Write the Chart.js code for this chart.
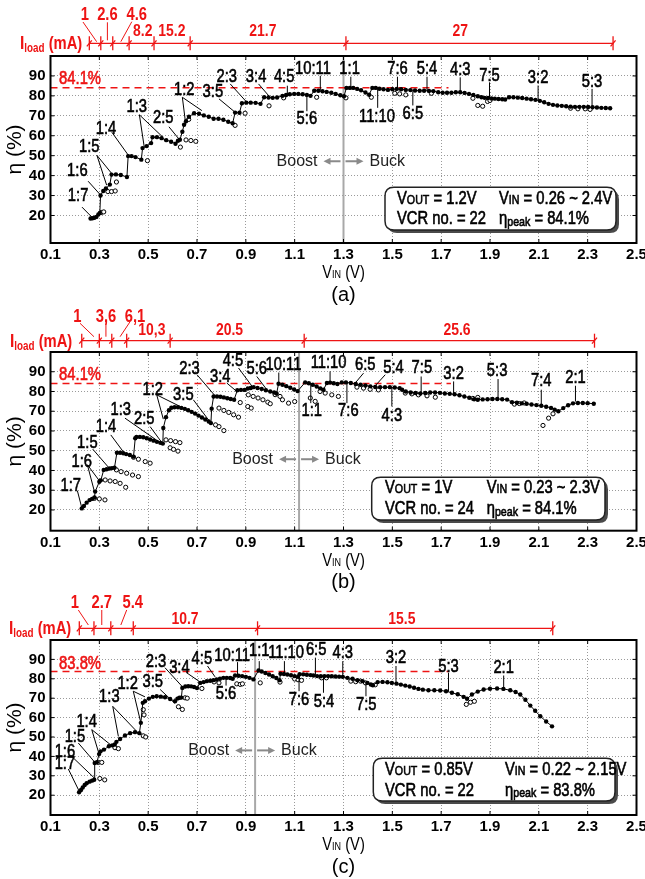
<!DOCTYPE html>
<html>
<head>
<meta charset="utf-8">
<script src="https://cdn.jsdelivr.net/npm/chart.js@4.4.0/dist/chart.umd.min.js"></script>
<style>
  body { margin: 0; background: #fff; width: 645px; height: 879px; position: relative; overflow: hidden; }
  canvas { position: absolute; left: 0; }
</style>
</head>
<body>
<canvas id="cA" width="645" height="310" style="top:0px"></canvas>
<canvas id="cB" width="645" height="305" style="top:295px"></canvas>
<canvas id="cC" width="645" height="294" style="top:585px"></canvas>
<script>
// axis ticks
const xTicks = [0.1, 0.3, 0.5, 0.7, 0.9, 1.1, 1.3, 1.5, 1.7, 1.9, 2.1, 2.3, 2.5];
const yTicks = [20, 30, 40, 50, 60, 70, 80, 90];

// (a) Vout = 1.2V : selected VCR (filled, joined)
const vinA = [0.264,0.272,0.28,0.288,0.296,0.302, 0.305,0.316,0.327, 0.343,0.35,0.368,0.388,0.413,
  0.418,0.432,0.448,0.472, 0.477,0.494,0.512,0.518,0.536,0.555,0.574,0.594,0.612, 0.622,0.63,0.64,
  0.647,0.655,0.667,0.688,0.708,0.728,0.748,0.768,0.788,0.808,0.828,0.846, 0.856,0.874,
  0.884,0.902,0.92,0.94,0.96, 0.975,0.993,1.01,1.028, 1.05,1.065,1.08,1.098,1.115,1.133,1.15,1.165,
  1.18,1.197,1.214,1.231,1.25,1.268,1.287,1.302, 1.312,1.326,1.34,1.356,1.372,1.39,1.405,
  1.418,1.432,1.447,1.464,1.482,1.5,1.518,1.536,1.555,1.574,1.593,1.612,1.63,1.65,1.668,
  1.688,1.706,1.724,1.742,1.76,1.778,1.796,1.814,1.832,1.85, 1.865,1.878,1.892,1.906,1.92,1.935,1.95,1.962,
  1.978,1.996,2.014,2.032,2.05,2.068,2.086,2.104,2.122,2.14,2.158,2.176,2.194,2.212,2.23,2.248,2.266,2.284,2.302,2.32,2.338,2.356,2.374,2.392];
const effA = [18.5,18.6,18.9,19.3,20.5,21.3, 30,32.3,33.5, 35.5,40.5,40.6,40.3,39.3,
  49.8,49.8,49.3,48, 53.8,54.8,56.3,59.3,59.3,58.8,57.8,57,56, 57.5,58,62,
  65.5,67.3,69.5,71.3,71,70.2,69.5,68.5,68.5,68,67,66.3, 71.6,71.5,
  76.3,76.6,76.6,76.5,76, 79.3,79.2,79,79.2, 80,80.4,80.8,81,81,80.8,80.5,80,
  82.6,82.6,82.3,82,81.6,81,80.3,79.8, 84,84,84,83.5,82.8,81.7,80.6,
  84,84,83.6,83.3,83,83.3,83.5,83.3,83,82.9,82.7,82.6,82.6,82.5,82.4,
  81.8,81.6,81.6,81.6,81.8,81.8,81.5,81,80.5,79.8, 79.3,79,78.9,78.7,78.6,78.4,78.3,78.2,
  79.3,79.3,79.1,78.9,78.6,78.3,78,77.5,76.8,76,75.5,75.2,75,74.8,74.6,74.5,74.5,74.5,74.4,74.3,74.2,74,73.9,73.8];
// (a) other VCRs (open circles)
const vinAo = [0.308,0.318, 0.335,0.35,0.365, 0.37, 0.497, 0.632,0.655,0.675,0.695, 0.666, 0.856, 0.897, 0.995,
  1.055, 1.19, 1.31, 1.414, 1.51,1.53,1.555, 1.66, 1.83, 1.85,1.87, 1.89,1.9, 2.23,2.26,2.29,2.31];
const effAo = [21.5,21.8, 32,32,32.3, 36.8, 47.5, 54.3,57.9,57.6,57.2, 68.2, 65.2, 71.3, 75,
  79, 79.3, 79, 79.3, 81.3,81,80.5, 81.3, 78.8, 75.2,74.8, 77.2,77.7, 73.8,73.5,73.5,73.2];

// (b) Vout = 1V
const vinB = [0.228,0.237,0.248,0.26,0.27,0.28, 0.283,0.3,0.306, 0.318,0.33,0.342,0.352,0.362,
  0.372,0.385,0.398,0.41,0.425,0.44, 0.447,0.452,0.466,0.48,0.494,0.508,0.522,0.536,0.55,0.56,
  0.562,0.573,0.585, 0.595,0.608,0.622,0.636,0.65,0.664,0.678,0.692,0.706,0.72,0.734,0.748,0.757,
  0.76, 0.768,0.782,0.796,0.81,0.824,0.838,0.852, 0.865,0.88,0.895, 0.908,0.92,
  0.932,0.948,0.965,0.982,1.0,1.016,1.026, 1.034,1.05,1.066,1.082,1.098,1.112,
  1.143,1.158,1.174,1.19,1.205,1.218, 1.232,1.245,1.26,1.275,
  1.293,1.31,1.33,1.35,1.37,1.39,1.41,1.43,1.45,1.47,1.49,1.51,1.53,1.54,
  1.555,1.575,1.595,1.615,1.635,1.655,1.675,1.695, 1.715,1.735,1.755,1.775,1.795,1.815,1.835,
  1.85,1.87,1.89,1.91,1.93,1.95,1.97, 1.99,2.01,2.03,2.05,2.07,2.09,2.11,2.13,2.15,2.165,2.18,
  2.2,2.22,2.24,2.26,2.28,2.3,2.325];
const effB = [20.8,22,23.7,25,25.6,26.3, 29.3,34.3,35, 40.3,40.6,41,41.2,41.4,
  49,49,48.7,48.3,47.8,47, 56.3,57,57,56.8,56.3,55.7,55.1,54.5,54,53.6,
  61.5,67,70.5, 71.8,72,72,71.7,71.2,70.5,69.7,68.8,67.8,66.8,65.8,64.8,64,
  71.3, 77.5,77.5,77.3,77,76.6,76.2,75.8, 80.6,80.8,80.8, 81.5,81.8,
  82.2,81.8,81.3,80.6,80,79.5,79, 83.9,83.4,82.7,81.9,81,80.2,
  84.6,84.2,83.4,82.5,81.6,80.9, 84.3,84.5,84.2,83.8,
  84.6,84.6,84.3,83.8,83.4,83,82.6,82.3,82.2,82.2,82.2,82,81.7,80.9,
  80,79.5,79.2,79,79.2,79.5,79.5,79.3, 79,78.8,78.6,78.1,77.5,76.8,76.1,
  75.8,76,76.1,76.2,76.2,76.1,75.9, 74.6,74.3,74,73.8,73.4,73.1,72.8,72.3,71.7,70.8,70,
  71.6,73,74,74.2,74.2,74.1,73.8];
const vinBo = [0.28,0.3,0.323, 0.324,0.344,0.365,0.385,0.408, 0.37,0.389,0.412,0.436,0.46, 0.44,0.46,0.488,0.508,
  0.573,0.592,0.612,0.63, 0.59,0.604,0.622, 0.776,0.79,0.81, 0.79,0.81,0.83,0.85,0.87, 0.877,0.908,0.922,
  0.91,0.93,0.95,0.97,0.99,1.0, 1.02,1.04,1.05,1.075,1.1, 1.164,1.184, 1.204,1.225,1.252,1.279,
  1.355,1.382,1.409,1.443, 1.553,1.58,1.607,1.642,1.676, 1.83,1.85, 2.0,2.02,2.04, 2.117,2.14,2.158];
const effBo = [25.9,25.6,25.1, 35.2,34.7,34.4,33.5,31.5, 40.3,39.4,38.6,37.7,36.9, 46.7,45.7,44.5,43.7,
  55.5,55.1,54.6,54.1, 51.5,50.7,49.8, 63.1,62.2,60.2, 71.6,70.4,69.4,68.2,67, 74.4,72.4,71.6,
  78.3,77.5,76.7,75.8,74.6,73.8, 78.4,77.5,75.8,74.1,74.9, 76.7,75, 80,79.2,78.3,77.5,
  82.2,81.7,81.1,80.8, 79.2,78.8,78.3,77.8,77.1, 76.5,77, 73.6,73.9,74.2, 62.8,66.5,68.7];

// (c) Vout = 0.85V
const vinC = [0.217,0.225,0.232,0.24, 0.248,0.26,0.27,0.279, 0.281,0.29,
  0.299,0.305,0.319,0.339,0.353,0.363, 0.37,0.385,0.405,0.426,0.446,0.464,
  0.47,0.478,0.487,0.503,0.519,0.535,0.552,0.569,0.59,0.61, 0.62,0.628,0.636,
  0.64,0.652,0.664,0.676,0.688,0.7, 0.713,0.727,0.74,0.754,0.767, 0.78,0.794,0.808,0.822,0.836,0.846,
  0.856,0.87,0.885,0.9,0.915,0.931, 0.952,0.965,0.98,0.995,1.01,1.025,1.038,
  1.042,1.056,1.07,1.085,1.1,1.114,
  1.12,1.135,1.15,1.165,1.177,1.192,1.207,1.222,1.237,1.252,1.267,1.282,1.297,
  1.316,1.337,1.357,1.378,1.398,1.412,1.42, 1.44,1.46,1.48,1.498,1.517,1.535,1.553,1.571,1.589,1.607,
  1.625,1.648,1.672,1.696,1.72,1.744,1.768,1.792,1.806,
  1.826,1.85,1.874,1.9,1.929,1.955,1.983,2.005,2.024,2.045,2.065,2.085,2.106,2.13,2.154];
const effC = [21.5,22.7,24,25.3, 26.2,27,27.5,28, 36.6,37,
  41.2,42.6,43.5,45.2,45.7,46.1, 47.5,49,50.8,52,52.5,52,
  57.3,67.6,68.4,69.8,70.7,71,70.8,70.5,69.6,68.4, 69.8,70.2,70.3,
  75.3,76,76.2,76.1,75.8,75.2, 77.9,78.3,78.8,79,79.3, 79.7,80,80.5,80.5,80.4,80,
  81.7,81.6,81.4,81,80.5,79.7, 84.3,83.8,83,82.2,81.3,80.4,79.3,
  82.6,82.5,82.2,81.8,81.4,81,
  82.4,82.3,82.1,81.9,81.7,81.4,81.3,81.4,81.4,81.3,81.2,81.1,81,
  80.5,80,79.3,78.8,77.9,77.1,76.7, 78.3,78.4,78.2,77.9,77.5,77,76.5,76,75.4,74.8,
  74.4,74.1,74.1,74,73.6,72.8,72,70.7,69.7,
  71.9,73.4,74.5,74.9,75,74.8,74.1,73.2,71.9,69.2,66.2,63.5,60.7,58,55.5];
const vinCo = [0.302,0.322, 0.296,0.31, 0.364,0.378, 0.48,0.49, 0.48,0.483, 0.624,0.64, 0.651,0.66, 0.72,
  0.77,0.79, 0.863,0.877,0.886, 0.959, 1.04, 1.1,1.114,1.128, 1.21,1.23, 1.33,1.35,1.37,1.39, 1.43,
  1.803,1.82,1.836];
const effCo = [28.6,27.9, 36.9,36.9, 44.5,44, 50.6,50, 64.1,61.4, 65.6,64.2, 70.2,70, 75,
  78.4,77.9, 77.4,77.1,77.4, 77.9, 78.3, 79.9,79.5,79.2, 80.5,80.5, 78.8,78.5,78.8,77.9, 76.9,
  66.8,67.9,68.4];

// ratio labels: text, label x, label y, leader lines (all in V / %)
const notesA = [
  ['1:7',0.213,29.6,[[0.229,24.2,0.274,18.6]]],
  ['1:6',0.21,42.2,[[0.254,37.2,0.307,30]]],
  ['1:5',0.259,54.3,[[0.29,50.2,0.33,35.2],[0.29,50.2,0.351,41]]],
  ['1:4',0.327,63.5,[[0.351,61.8,0.419,50.2]]],
  ['1:3',0.453,74.3,[[0.464,70.5,0.484,54.3],[0.464,70.5,0.56,59.3]]],
  ['2:5',0.562,69,[[0.585,64.5,0.631,57.6]]],
  ['1:2',0.648,83,[[0.64,79.3,0.654,65.6],[0.64,79.3,0.72,72.6]]],
  ['3:5',0.765,81.8,[[0.79,78.5,0.856,71.8]]],
  ['2:3',0.822,89.6,[[0.836,86,0.904,76.8]]],
  ['3:4',0.942,89.6,[[0.952,86,0.997,79.6]]],
  ['4:5',1.057,89.3,[[1.07,85.1,1.07,80.4]]],
  ['10:11',1.175,93.5,[[1.205,90.1,1.205,82.8]]],
  ['5:6',1.15,68.5,[[1.15,72.3,1.15,80.4]]],
  ['1:1',1.325,93.5,[[1.33,89.6,1.33,84.2]]],
  ['11:10',1.437,69.3,[[1.44,74,1.44,83.8]]],
  ['7:6',1.521,93.5,[[1.521,89.6,1.521,83.6]]],
  ['5:4',1.642,93.5,[[1.642,89.6,1.642,82.6]]],
  ['6:5',1.584,71,[[1.584,75.2,1.584,82.4]]],
  ['4:3',1.778,93,[[1.778,89.3,1.778,81.8]]],
  ['7:5',1.898,90.2,[[1.898,86.8,1.898,78.8]]],
  ['3:2',2.097,88.8,[[2.097,85.2,2.097,78]]],
  ['5:3',2.318,86.8,[[2.318,83.5,2.318,74.4]]]
];
const notesB = [
  ['1:7',0.183,32.2,[[0.21,29.8,0.229,20.7]]],
  ['1:6',0.228,44.5,[[0.251,42.9,0.28,29.3],[0.251,42.9,0.303,34.3]]],
  ['1:5',0.251,54.1,[[0.273,50.8,0.341,41.1]]],
  ['1:4',0.327,62.2,[[0.347,58,0.401,49]]],
  ['1:3',0.388,70.4,[[0.405,66.5,0.549,54.1]]],
  ['2:5',0.484,66,[[0.508,62.2,0.558,53.8]]],
  ['1:2',0.519,80.9,[[0.535,78.3,0.562,66],[0.535,78.3,0.631,72.4]]],
  ['3:5',0.644,78.3,[[0.685,75.8,0.757,64]]],
  ['2:3',0.669,91.4,[[0.7,88.5,0.774,77.8]]],
  ['3:4',0.795,87.3,[[0.822,84.3,0.863,80]]],
  ['4:5',0.847,95.2,[[0.87,91.9,0.931,81.7]]],
  ['5:6',0.945,91.4,[[0.945,87.6,0.986,80.9]]],
  ['10:11',1.054,93.6,[[1.035,89.6,1.035,84.3]]],
  ['11:10',1.239,94.4,[[1.245,90.2,1.245,84.8]]],
  ['1:1',1.17,69.9,[[1.166,74.1,1.166,84.3]]],
  ['7:6',1.32,69.9,[[1.314,74.1,1.314,84.6]]],
  ['6:5',1.389,93.6,[[1.382,89.3,1.348,84.3]]],
  ['5:4',1.505,91.9,[[1.471,88.5,1.43,82.9]]],
  ['4:3',1.498,67.7,[[1.498,72.4,1.498,82.2]]],
  ['7:5',1.621,91.9,[[1.618,87.6,1.618,79.5]]],
  ['3:2',1.751,89,[[1.751,85.1,1.751,79.2]]],
  ['5:3',1.929,90.2,[[1.933,86.3,1.933,76.7]]],
  ['7:4',2.11,85.1,[[2.11,80.9,2.11,73.3]]],
  ['2:1',2.25,86.8,[[2.25,82.9,2.25,74.9]]]
];
const notesC = [
  ['1:7',0.159,36,[[0.173,33.5,0.217,22.2]]],
  ['1:6',0.159,42,[[0.187,40,0.28,28.8]]],
  ['1:5',0.2,50,[[0.214,46.9,0.282,36.9]]],
  ['1:4',0.248,57.8,[[0.269,53.8,0.299,41.2],[0.269,53.8,0.351,45.5]]],
  ['1:3',0.341,70.5,[[0.355,65.8,0.378,50.3],[0.355,65.8,0.46,52]]],
  ['1:2',0.416,77.1,[[0.439,73.6,0.47,57.3],[0.439,73.6,0.487,70.7]]],
  ['3:5',0.519,78.3,[[0.549,74.5,0.61,67.3]]],
  ['2:3',0.532,88.6,[[0.569,85.7,0.638,76.2]]],
  ['3:4',0.628,85.7,[[0.658,83.1,0.713,78.3]]],
  ['4:5',0.72,90.4,[[0.743,86.6,0.774,81]]],
  ['5:6',0.819,71.9,[[0.819,76.5,0.819,80.5]]],
  ['10:11',0.844,91.7,[[0.866,88.6,0.866,81.7]]],
  ['1:1',0.955,94.3,[[0.955,89.1,0.955,84.6]]],
  ['11:10',1.065,93.4,[[1.058,89.1,1.058,83.1]]],
  ['6:5',1.188,94.7,[[1.185,90.9,1.185,82]]],
  ['7:6',1.118,69.3,[[1.118,73.6,1.118,82.2]]],
  ['5:4',1.22,68.2,[[1.218,72.8,1.218,81]]],
  ['4:3',1.297,93.4,[[1.297,89.1,1.297,80.8]]],
  ['7:5',1.393,66.4,[[1.392,71,1.392,77.6]]],
  ['3:2',1.515,90.9,[[1.515,86.6,1.515,77.6]]],
  ['5:3',1.73,86.2,[[1.73,83.1,1.73,73.4]]],
  ['2:1',1.956,85.7,[[1.956,81.7,1.956,75]]]
];

const RED = '#ee1414';
const SAN = '"Liberation Sans",Arial,sans-serif';
const NS = 0.82; // horizontal squeeze to imitate a narrow face

const panels = [
  { id: 'cA', vin: vinA, eff: effA, vinO: vinAo, effO: effAo, notes: notesA, yMin: 6.2, top: 56, xH: 67,
    peak: 84.1, peakText: '84.1%', peakAt: [0.221, 88.3], peakEnd: 1.73, divider: 1.3, boostE: 47.2,
    box: { r: [385, 131.3, 616, 174], rows: [143.3, 163.3], cols: [397, 499], vout: '1.2V', vin: '0.26 ~ 2.4V', vcr: '22', pk: '84.1%' },
    load: { dy: -12.7, ticks: [0.259, 0.306, 0.355, 0.422, 0.524, 0.672, 1.31, 2.404],
      low: [['8.2', 0.478], ['15.2', 0.597], ['21.7', 0.97], ['27', 1.778]], lowDy: -11.6,
      up: [['1', 0.241, [0.233, -21.3, 0.289, -1.6]], ['2.6', 0.333, [0.333, -21, 0.333, -3]], ['4.6', 0.453, [0.433, -21.6, 0.388, -1.6]]],
      upDy: -28.3, labelX: 20 },
    caption: '(a)' },
  { id: 'cB', vin: vinB, eff: effB, vinO: vinBo, effO: effBo, notes: notesB, yMin: 9.5, top: 57, xH: 69.3,
    peak: 84.1, peakText: '84.1%', peakAt: [0.221, 88.5], peakEnd: 1.74, divider: 1.118, boostE: 45.7,
    box: { r: [371.7, 125.3, 605, 168], rows: [136.3, 157.3], cols: [385, 486.7], vout: '1V', vin: '0.23 ~ 2.3V', vcr: '24', pk: '84.1%' },
    load: { dy: -11.3, ticks: [0.228, 0.3, 0.351, 0.412, 0.59, 1.139, 2.328],
      low: [['10,3', 0.515], ['20.5', 0.833], ['25.6', 1.765]], lowDy: -10,
      up: [['1', 0.21, [0.221, -17.4, 0.278, -4]], ['3,6', 0.327, [0.327, -20.7, 0.327, -4]], ['6,1', 0.446, [0.426, -19, 0.385, -4]]],
      upDy: -24, labelX: 10 },
    caption: '(b)' },
  { id: 'cC', vin: vinC, eff: effC, vinO: vinCo, effO: effCo, notes: notesC, yMin: 9.8, top: 55, xH: 64,
    peak: 83.8, peakText: '83.8%', peakAt: [0.221, 87.8], peakEnd: 1.73, divider: 0.938, boostE: 43.1,
    box: { r: [373.3, 118.3, 615, 161], rows: [130, 150.7], cols: [385, 505], vout: '0.85V', vin: '0.22 ~ 2.15V', vcr: '22', pk: '83.8%' },
    load: { dy: -11.7, ticks: [0.218, 0.278, 0.347, 0.439, 0.948, 2.157],
      low: [['10.7', 0.651], ['15.5', 1.539]], lowDy: -9,
      up: [['1', 0.2, [0.214, -18.3, 0.255, -3.3]], ['2.7', 0.31, [0.31, -18.3, 0.31, -3.3]], ['5.4', 0.437, [0.412, -18.3, 0.388, -3.3]]],
      upDy: -25, labelX: 9 },
    caption: '(c)' }
];

function pts(xs, ys) { return xs.map((x, i) => ({ x: x, y: ys[i] })); }
function line(ctx, x1, y1, x2, y2) { ctx.beginPath(); ctx.moveTo(x1, y1); ctx.lineTo(x2, y2); ctx.stroke(); }
// narrow text: parts = [[text, font, dy], ...]; heavy adds a thin outline
function rich(ctx, parts, x, y, align, heavy) {
  let w = 0;
  parts.forEach(p => { ctx.font = p[1]; w += ctx.measureText(p[0]).width; });
  ctx.save();
  ctx.translate(x, y); ctx.scale(NS, 1);
  let cx = align === 'center' ? -w / 2 : (align === 'right' ? -w : 0);
  ctx.textAlign = 'left';
  ctx.strokeStyle = ctx.fillStyle; ctx.lineWidth = 0.6;
  parts.forEach(p => {
    ctx.font = p[1];
    ctx.fillText(p[0], cx, p[2] || 0);
    if (heavy) ctx.strokeText(p[0], cx, p[2] || 0);
    cx += ctx.measureText(p[0]).width;
  });
  ctx.restore();
}
function txt(ctx, s, font, x, y, heavy) { rich(ctx, [[s, font]], x, y, 'center', heavy); }
function arrow(ctx, x1, x2, y) {
  const d = x2 > x1 ? 1 : -1;
  ctx.strokeStyle = '#8a8a8a'; ctx.fillStyle = '#8a8a8a'; ctx.lineWidth = 2;
  line(ctx, x1, y, x2 - d * 5, y);
  ctx.beginPath(); ctx.moveTo(x2, y); ctx.lineTo(x2 - d * 7, y - 3.5); ctx.lineTo(x2 - d * 7, y + 3.5); ctx.closePath(); ctx.fill();
}
function roundRect(ctx, x1, y1, x2, y2, r) {
  ctx.beginPath();
  ctx.moveTo(x1 + r, y1); ctx.lineTo(x2 - r, y1); ctx.quadraticCurveTo(x2, y1, x2, y1 + r);
  ctx.lineTo(x2, y2 - r); ctx.quadraticCurveTo(x2, y2, x2 - r, y2);
  ctx.lineTo(x1 + r, y2); ctx.quadraticCurveTo(x1, y2, x1, y2 - r);
  ctx.lineTo(x1, y1 + r); ctx.quadraticCurveTo(x1, y1, x1 + r, y1);
  ctx.closePath();
}

function figPlugin(P) {
  return {
    id: 'fig',
    beforeDatasetsDraw(chart) {
      const ctx = chart.ctx, a = chart.chartArea;
      const X = v => chart.scales.x.getPixelForValue(v), Y = e => chart.scales.y.getPixelForValue(e);
      ctx.save();
      ctx.strokeStyle = '#a8a8a8'; ctx.lineWidth = 2;
      line(ctx, X(P.divider), a.top, X(P.divider), a.bottom);
      ctx.strokeStyle = RED; ctx.lineWidth = 1.5; ctx.setLineDash([7, 5]);
      line(ctx, a.left, Y(P.peak), X(P.peakEnd), Y(P.peak));
      ctx.restore();
    },
    afterDraw(chart) {
      const ctx = chart.ctx, a = chart.chartArea;
      const X = v => chart.scales.x.getPixelForValue(v), Y = e => chart.scales.y.getPixelForValue(e);
      ctx.save();
      // frame + inner ticks
      ctx.strokeStyle = '#000'; ctx.lineWidth = 2;
      ctx.strokeRect(a.left, a.top, a.right - a.left, a.bottom - a.top);
      ctx.lineWidth = 1;
      xTicks.forEach(v => { const x = X(v); line(ctx, x, a.bottom, x, a.bottom - 4); line(ctx, x, a.top, x, a.top + 4); });
      yTicks.forEach(e => { const y = Y(e); line(ctx, a.left, y, a.left + 4, y); line(ctx, a.right, y, a.right - 4, y); });

      ctx.textBaseline = 'middle';
      // peak label
      ctx.fillStyle = RED;
      txt(ctx, P.peakText, '18px ' + SAN, X(P.peakAt[0]), Y(P.peakAt[1]), true);

      // boost / buck
      const dx = X(P.divider), by = Y(P.boostE);
      ctx.fillStyle = '#222'; ctx.font = '16px ' + SAN;
      ctx.textAlign = 'right'; ctx.fillText('Boost', dx - 26, by);
      ctx.textAlign = 'left'; ctx.fillText('Buck', dx + 26, by);
      arrow(ctx, dx - 3, dx - 20, by);
      arrow(ctx, dx + 2, dx + 20, by);

      // ratio labels
      ctx.strokeStyle = '#000'; ctx.lineWidth = 1; ctx.fillStyle = '#000';
      P.notes.forEach(n => {
        txt(ctx, n[0], '18px ' + SAN, X(n[1]), Y(n[2]), true);
        ctx.lineWidth = 1;
        n[3].forEach(l => line(ctx, X(l[0]), Y(l[1]), X(l[2]), Y(l[3])));
      });

      // info box
      const b = P.box, r = b.r, t0 = a.top;
      ctx.fillStyle = '#4a4a4a'; roundRect(ctx, r[0] + 3, t0 + r[1] + 3, r[2] + 3, t0 + r[3] + 3, 9); ctx.fill();
      ctx.fillStyle = '#fff'; roundRect(ctx, r[0], t0 + r[1], r[2], t0 + r[3], 9); ctx.fill();
      ctx.strokeStyle = '#222'; ctx.lineWidth = 1.5; ctx.stroke();
      ctx.fillStyle = '#000';
      const F = '18px ' + SAN, S = '13px ' + SAN;
      rich(ctx, [['V', F], ['OUT', S, 1], [' = ' + b.vout, F]], b.cols[0], t0 + b.rows[0], 'left', true);
      rich(ctx, [['V', F], ['IN', S, 1], [' = ' + b.vin, F]], b.cols[1], t0 + b.rows[0], 'left', true);
      rich(ctx, [['VCR no. = ' + b.vcr, F]], b.cols[0], t0 + b.rows[1], 'left', true);
      rich(ctx, [['\u03b7', F], ['peak', S, 3], [' = ' + b.pk, F]], b.cols[1], t0 + b.rows[1], 'left', true);

      // load current bar
      const L = P.load, ly = a.top + L.dy, t = L.ticks;
      ctx.strokeStyle = RED; ctx.fillStyle = RED; ctx.lineWidth = 1.3;
      line(ctx, X(t[0]), ly, X(t[t.length - 1]), ly);
      t.forEach(v => { const x = X(v); line(ctx, x, ly - 7, x, ly + 7); line(ctx, x - 2.5, ly + 3, x + 2.5, ly - 3); });
      const LF = 'bold 17px ' + SAN;
      L.low.forEach(s => txt(ctx, s[0], LF, X(s[1]), ly + L.lowDy));
      L.up.forEach(s => {
        txt(ctx, s[0], 'bold 18px ' + SAN, X(s[1]), ly + L.upDy);
        const k = s[2];
        ctx.strokeStyle = RED; ctx.lineWidth = 1;
        line(ctx, X(k[0]), ly + k[1], X(k[2]), ly + k[3]);
      });
      ctx.textBaseline = 'alphabetic';
      rich(ctx, [['I', 'bold 19px ' + SAN], ['load', 'bold 12px ' + SAN, 3], [' (mA)', 'bold 18px ' + SAN]], L.labelX, ly + 6);

      // axis titles and caption
      ctx.fillStyle = '#000'; ctx.textBaseline = 'middle';
      const cx = (a.left + a.right) / 2;
      rich(ctx, [['V', '18px ' + SAN], ['IN', '11px ' + SAN, 2], [' (V)', '18px ' + SAN]], cx, a.bottom + 30, 'center');
      ctx.font = '20px ' + SAN; ctx.textAlign = 'center';
      ctx.fillText(P.caption, cx, a.bottom + 52);
      ctx.save();
      ctx.translate(15, (a.top + a.bottom) / 2); ctx.rotate(-Math.PI / 2);
      ctx.font = '21px ' + SAN; ctx.fillText('\u03b7 (%)', 0, 0);
      ctx.restore();
      ctx.restore();
    }
  };
}

function makeChart(P) {
  const tickFont = { family: SAN, size: 15, weight: 'bold' };
  return new Chart(document.getElementById(P.id), {
    type: 'scatter',
    data: {
      datasets: [
        { data: pts(P.vin, P.eff), showLine: true, borderColor: '#000', borderWidth: 1,
          pointRadius: 2.2, pointBackgroundColor: '#000', pointBorderWidth: 0 },
        { data: pts(P.vinO, P.effO), showLine: false, pointRadius: 2.1,
          pointBackgroundColor: '#fff', pointBorderColor: '#000', pointBorderWidth: 1 }
      ]
    },
    options: {
      responsive: false, animation: false, devicePixelRatio: 1,
      layout: { padding: { left: 0, right: 8.5, top: P.top, bottom: 0 } },
      plugins: { legend: { display: false }, tooltip: { enabled: false } },
      scales: {
        x: {
          type: 'linear', min: 0.1, max: 2.5,
          afterBuildTicks: s => { s.ticks = xTicks.map(v => ({ value: v })); },
          afterFit: s => { s.height = P.xH; s.paddingLeft = 0; s.paddingRight = 0; },
          ticks: { font: tickFont, color: '#000', padding: 3, maxRotation: 0, autoSkip: false, callback: v => v.toFixed(1) },
          grid: { color: '#9a9a9a', drawTicks: false },
          border: { display: false, dash: [1, 2] }
        },
        y: {
          type: 'linear', min: P.yMin, max: 100,
          afterBuildTicks: s => { s.ticks = yTicks.map(v => ({ value: v })); },
          afterFit: s => { s.width = 50.5; s.paddingTop = 0; s.paddingBottom = 0; },
          ticks: { font: tickFont, color: '#000', padding: 5, callback: v => String(v) },
          grid: { color: '#9a9a9a', drawTicks: false },
          border: { display: false, dash: [1, 2] }
        }
      }
    },
    plugins: [figPlugin(P)]
  });
}

panels.forEach(makeChart);
</script>
</body>
</html>
